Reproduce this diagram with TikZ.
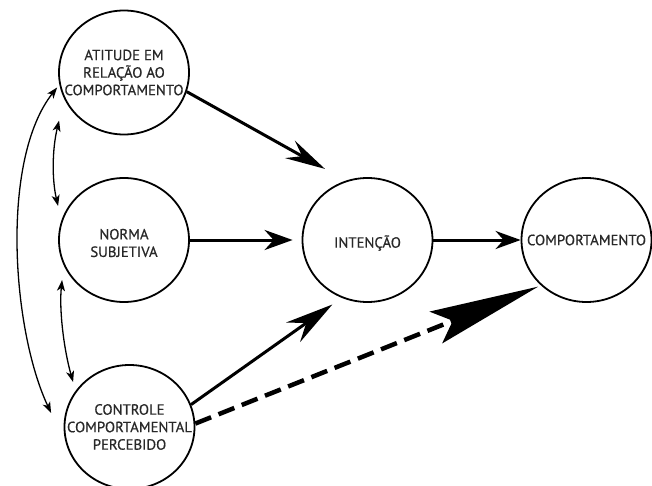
\documentclass[tikz,border=0pt]{standalone}
\usepackage{fontspec}
\newfontfamily\lblfont{PT Sans}[UprightFeatures={FakeBold=0.6}]
\usetikzlibrary{arrows.meta,shapes.geometric,calc}
\definecolor{txt}{RGB}{40,40,40}
\begin{document}
\begin{tikzpicture}[x=1pt,y=-1pt,
  state/.style={ellipse,draw,line width=1.8pt,minimum width=130pt,minimum height=124pt,inner sep=0pt},
  lbl/.style={text=txt,align=center,inner sep=0pt,font=\lblfont\fontsize{14.8}{17.5}\selectfont},
  mainline/.style={line width=3pt},
  dbl/.style={line width=1.3pt,{Stealth[length=11pt,width=8pt,inset=3pt]}-{Stealth[length=11pt,width=8pt,inset=3pt]}}
]
\useasboundingbox (0,0) rectangle (652,486);
\node[state,label={[lbl]center:ATITUDE EM\\RELAÇÃO AO\\COMPORTAMENTO}] (att) at (124,72.5) {};
\node[state,label={[lbl,yshift=-3pt]center:NORMA\\SUBJETIVA}] (norm) at (124,240) {};
\node[state,label={[lbl]center:CONTROLE\\COMPORTAMENTAL\\PERCEBIDO}] (ctl) at (129.5,427) {};
\node[state,label={[lbl,yshift=-3pt]center:INTENÇÃO}] (int) at (367.5,240) {};
\node[state,label={[lbl]center:COMPORTAMENTO}] (comp) at (586.5,240) {};

\draw[mainline,-{Stealth[length=40pt,width=20pt,inset=14pt]},shorten >=24pt] (att.-17) -- (int.110);
\draw[mainline,-{Stealth[length=28pt,width=20pt,inset=9pt]},shorten >=9pt] (norm.east) -- (int.west);
\draw[mainline,-{Stealth[length=48pt,width=24pt,inset=16pt]},shorten >=11.5pt] (ctl.20) -- (int.246.7);
\draw[mainline,-{Stealth[length=25pt,width=18pt,inset=8pt]}] (int.east) -- (comp.west);
\draw[line width=4.5pt,dash pattern=on 17pt off 8pt,-{Stealth[length=110pt,width=34pt,inset=18pt]},shorten >=3pt] (ctl.3) -- (comp.225);

\draw[dbl] ($(att.west)+(1,48)$) .. controls (52,150) and (52,180) .. ($(norm.west)+(0,-34)$);
\draw[dbl] ($(norm.west)+(4,40)$) .. controls (59,310) and (64,350) .. ($(ctl.west)+(9.5,-45)$);
\draw[dbl] ($(att.west)+(-1,15)$) .. controls (0,160) and (12,330) .. ($(ctl.west)+(-12.5,-14)$);
\end{tikzpicture}
\end{document}
